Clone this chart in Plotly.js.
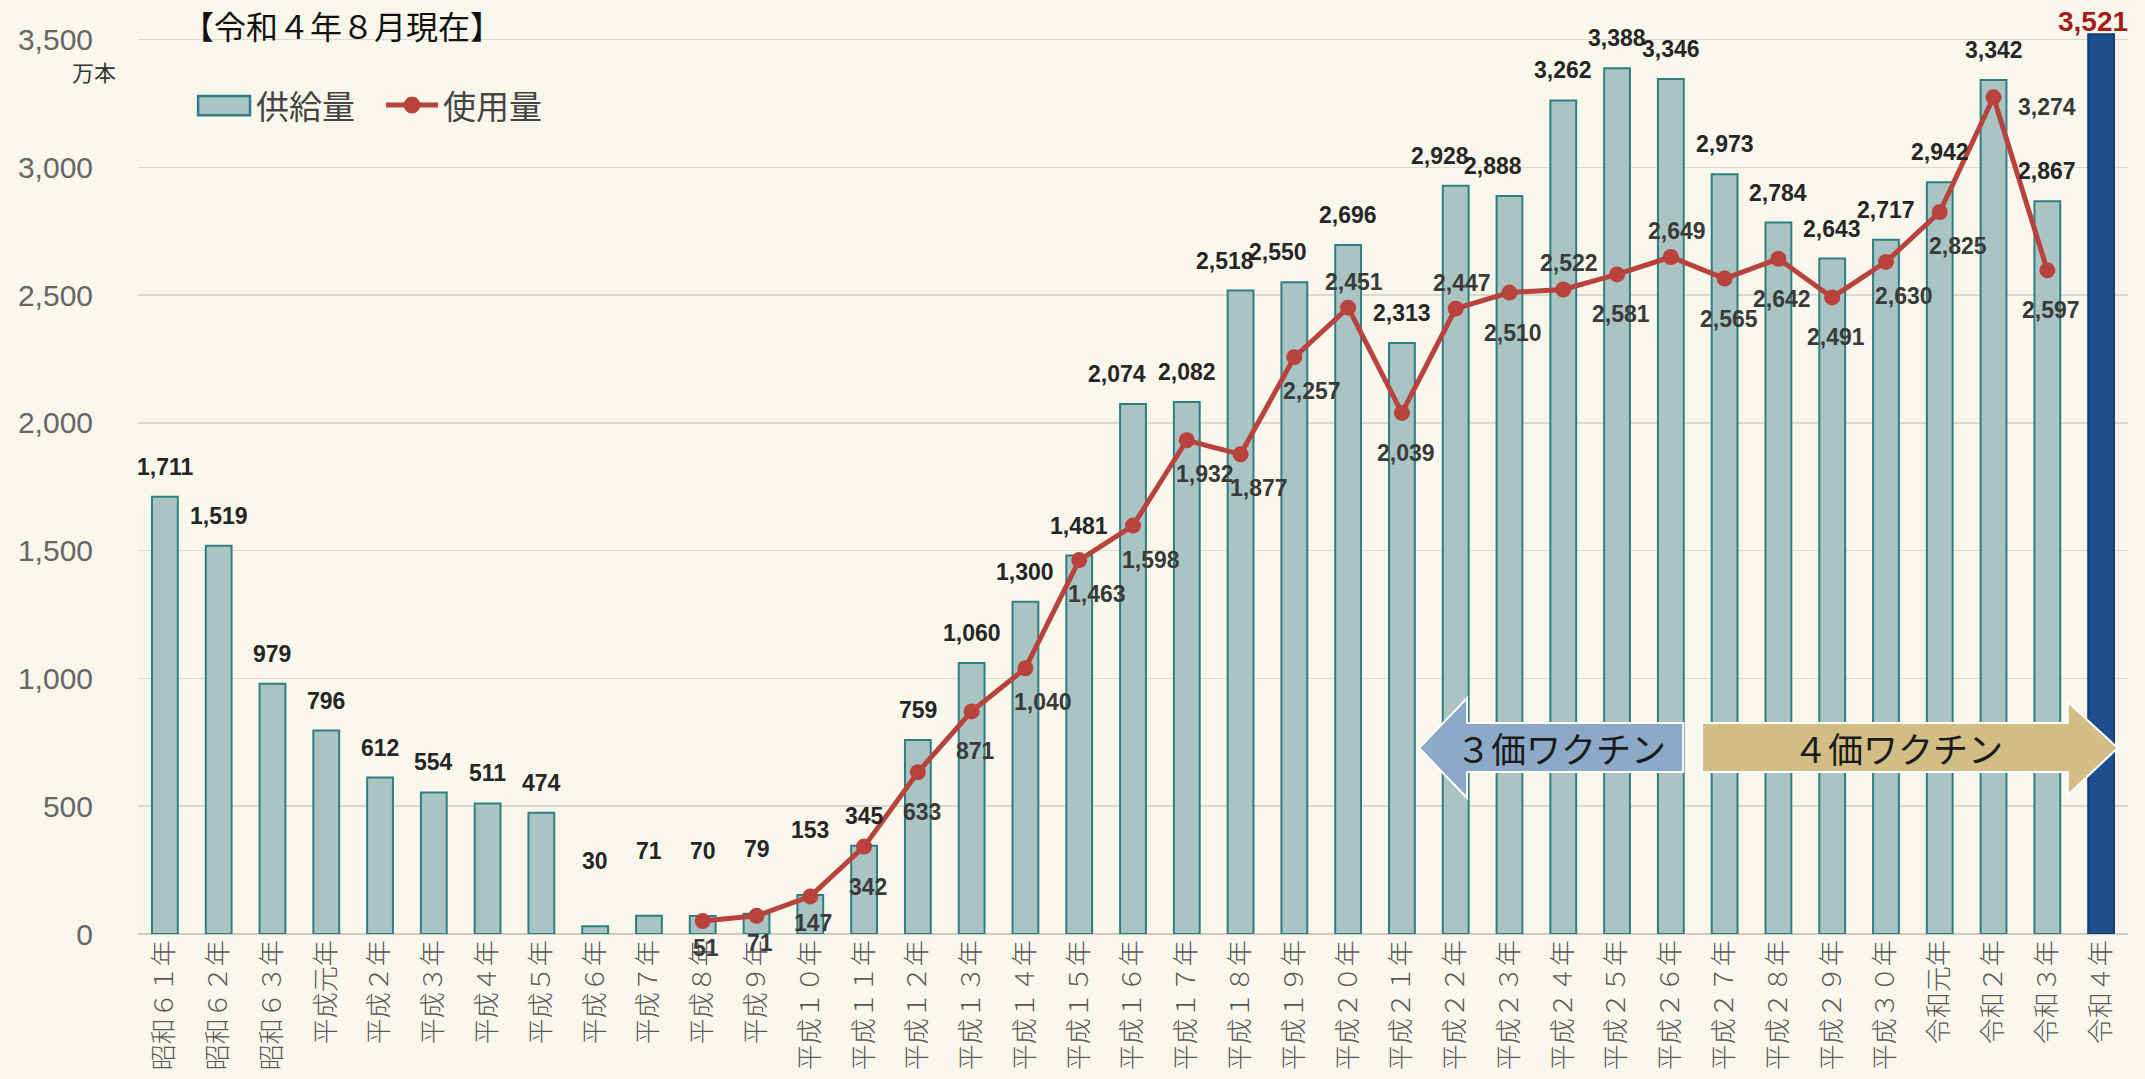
<!DOCTYPE html>
<html>
<head>
<meta charset="utf-8">
<script src="https://cdn.plot.ly/plotly-3.0.1.min.js"></script>
<style>html,body{margin:0;padding:0;background:#f9f7ec;}#chart{width:2145px;height:1079px;}</style>
</head>
<body>
<div id="chart"></div>
<script>
// ---- data ----
const categories = ['昭和６１年','昭和６２年','昭和６３年','平成元年','平成２年','平成３年','平成４年','平成５年','平成６年','平成７年','平成８年','平成９年','平成１０年','平成１１年','平成１２年','平成１３年','平成１４年','平成１５年','平成１６年','平成１７年','平成１８年','平成１９年','平成２０年','平成２１年','平成２２年','平成２３年','平成２４年','平成２５年','平成２６年','平成２７年','平成２８年','平成２９年','平成３０年','令和元年','令和２年','令和３年','令和４年'];
const supply = [1711,1519,979,796,612,554,511,474,30,71,70,79,153,345,759,1060,1300,1481,2074,2082,2518,2550,2696,2313,2928,2888,3262,3388,3346,2973,2784,2643,2717,2942,3342,2867,3521];
const usageCategories = categories.slice(categories.indexOf('平成８年'), categories.indexOf('令和３年') + 1);
const usage = [51,71,147,342,633,871,1040,1463,1598,1932,1877,2257,2451,2039,2447,2510,2522,2581,2649,2565,2642,2491,2630,2825,3274,2597];
const yTicks = [0,500,1000,1500,2000,2500,3000,3500];
const seriesNames = ['供給量','使用量'];
const titleText = '【令和４年８月現在】';
const unitText = '万本';
const arrowTexts = ['３価ワクチン','４価ワクチン'];

// ---- label placement codes (styling only) ----
const usageLabelPos = ['bs','bs','bs','b','b','b','br','br','br','br','br','br','t','b','t','b','t','b','t','b','b','b','br','br','r','b'];
const posShift = {b:[4,-40], bs:[3,-27], br:[18,-34], t:[6,26], r:[53,-10]};
const supplyLabelPos = ['c','c','c','c','c','c','c','c','h','h','h','h','h','c','c','c','c','c','l','c','l','l','c','c','l','l','c','c','c','c','c','c','c','c','c','c','c'];
const supplyShift = {c:[0,15], l:[-16,15], h:[0,50]};

const fmt = v => v.toLocaleString('en-US');
const lastIdx = supply.length - 1;
const barFill = supply.map((v,i) => i === lastIdx ? '#1d4e8e' : '#a9c4c3');
const barLine = supply.map((v,i) => i === lastIdx ? '#173f73' : '#2f7f82');

const lblFont = {family:'Liberation Sans, Arial, sans-serif', size:23, color:'#262626'};

const annotations = [];
supply.forEach((v,i) => {
  if (i === lastIdx) {
    annotations.push({x:categories[i], y:v, xref:'x', yref:'y', text:'<b>'+fmt(v)+'</b>', showarrow:false,
      yanchor:'bottom', yshift:-5, xshift:-8, font:{family:'Liberation Sans, Arial, sans-serif', size:28, color:'#a31d1d'}});
  } else {
    const s = supplyShift[supplyLabelPos[i]];
    annotations.push({x:categories[i], y:v, xref:'x', yref:'y', text:'<b>'+fmt(v)+'</b>', showarrow:false,
      yanchor:'bottom', xshift:s[0], yshift:s[1], font:lblFont});
  }
});
usage.forEach((v,i) => {
  const s = posShift[usageLabelPos[i]];
  annotations.push({x:usageCategories[i], y:v, xref:'x', yref:'y', text:'<b>'+fmt(v)+'</b>', showarrow:false,
    xshift:s[0], yshift:s[1], font:{family:'Liberation Sans, Arial, sans-serif', size:23, color:'#3a3a3a'}});
});
// title, unit, legend texts, arrow texts
annotations.push({xref:'paper', yref:'paper', x:0.021, y:0.988, text:titleText, showarrow:false, xanchor:'left', yanchor:'middle',
  font:{family:'Noto Sans CJK JP', size:32, color:'#111'}});
annotations.push({xref:'paper', yref:'paper', x:-0.010, y:0.938, text:unitText, showarrow:false, xanchor:'right', yanchor:'middle',
  font:{family:'Noto Sans CJK JP', size:22, color:'#333'}});
annotations.push({xref:'paper', yref:'paper', x:0.0585, y:0.901, text:seriesNames[0], showarrow:false, xanchor:'left', yanchor:'middle',
  font:{family:'Noto Sans CJK JP', size:33, color:'#444'}});
annotations.push({xref:'paper', yref:'paper', x:0.1525, y:0.901, text:seriesNames[1], showarrow:false, xanchor:'left', yanchor:'middle',
  font:{family:'Noto Sans CJK JP', size:33, color:'#444'}});
annotations.push({xref:'x', yref:'y', x:25.96, y:728, text:arrowTexts[0], showarrow:false, xanchor:'center', yanchor:'middle',
  font:{family:'Noto Sans CJK JP', size:35, color:'#1a1a1a'}});
annotations.push({xref:'x', yref:'y', x:32.22, y:728, text:arrowTexts[1], showarrow:false, xanchor:'center', yanchor:'middle',
  font:{family:'Noto Sans CJK JP', size:35, color:'#1a1a1a'}});

const shapes = [
  // 3価 arrow (left)
  {type:'path', xref:'x', yref:'y', layer:'above',
   path:'M 23.32 728 L 24.21 923 L 24.21 826 L 28.23 826 L 28.23 634 L 24.21 634 L 24.21 532 Z',
   fillcolor:'#8caac8', line:{color:'#ffffff', width:2}},
  // 4価 arrow (right)
  {type:'path', xref:'x', yref:'y', layer:'above',
   path:'M 28.58 826 L 35.38 826 L 35.38 908 L 36.31 728 L 35.38 544 L 35.38 634 L 28.58 634 Z',
   fillcolor:'#d2be84', line:{color:'#ffffff', width:2}},
  // legend: bar swatch
  {type:'rect', xref:'paper', yref:'paper', x0:0.0302, x1:0.0563, y0:0.890, y1:0.911,
   fillcolor:'#a9c4c3', line:{color:'#2f7f82', width:2.5}},
  // legend: line
  {type:'line', xref:'paper', yref:'paper', x0:0.1246, x1:0.1508, y0:0.901, y1:0.901,
   line:{color:'#b8433c', width:5}},
  {type:'circle', xref:'paper', yref:'paper', xsizemode:'pixel', ysizemode:'pixel', xanchor:0.1377, yanchor:0.901,
   x0:-8, x1:8, y0:-8, y1:8, fillcolor:'#b8433c', line:{color:'#b8433c', width:1}}
];

const traces = [
  {type:'bar', name:seriesNames[0], x:categories, y:supply, width:0.48,
   marker:{color:barFill, line:{color:barLine, width:2}}, hoverinfo:'skip', showlegend:false},
  {type:'scatter', mode:'lines+markers', name:seriesNames[1], x:usageCategories, y:usage,
   line:{color:'#b8433c', width:5}, marker:{color:'#b8433c', size:16}, hoverinfo:'skip', showlegend:false}
];

const layout = {
  width:2145, height:1079,
  paper_bgcolor:'#f9f7ec', plot_bgcolor:'#f9f7ec',
  margin:{l:138, r:17, t:14, b:145},
  showlegend:false,
  xaxis:{type:'category', range:[-0.5, categories.length - 0.5], tickangle:-90, showgrid:false, showline:false, zeroline:false,
    ticks:'', tickfont:{family:'Noto Sans CJK JP', size:26, color:'#5a5a5a', weight:300}, fixedrange:true},
  yaxis:{range:[0,3600], tickvals:yTicks, ticktext:yTicks.map(fmt), showgrid:true, gridcolor:'#dcd8cc', gridwidth:1.5,
    zeroline:true, zerolinecolor:'#cfcabd', zerolinewidth:2, showline:false,
    ticks:'outside', ticklen:38, tickcolor:'rgba(0,0,0,0)',
    tickfont:{family:'Liberation Sans, Arial, sans-serif', size:30, color:'#666'}, fixedrange:true},
  annotations:annotations,
  shapes:shapes
};

Plotly.newPlot('chart', traces, layout, {displayModeBar:false, staticPlot:true});
</script>
</body>
</html>
